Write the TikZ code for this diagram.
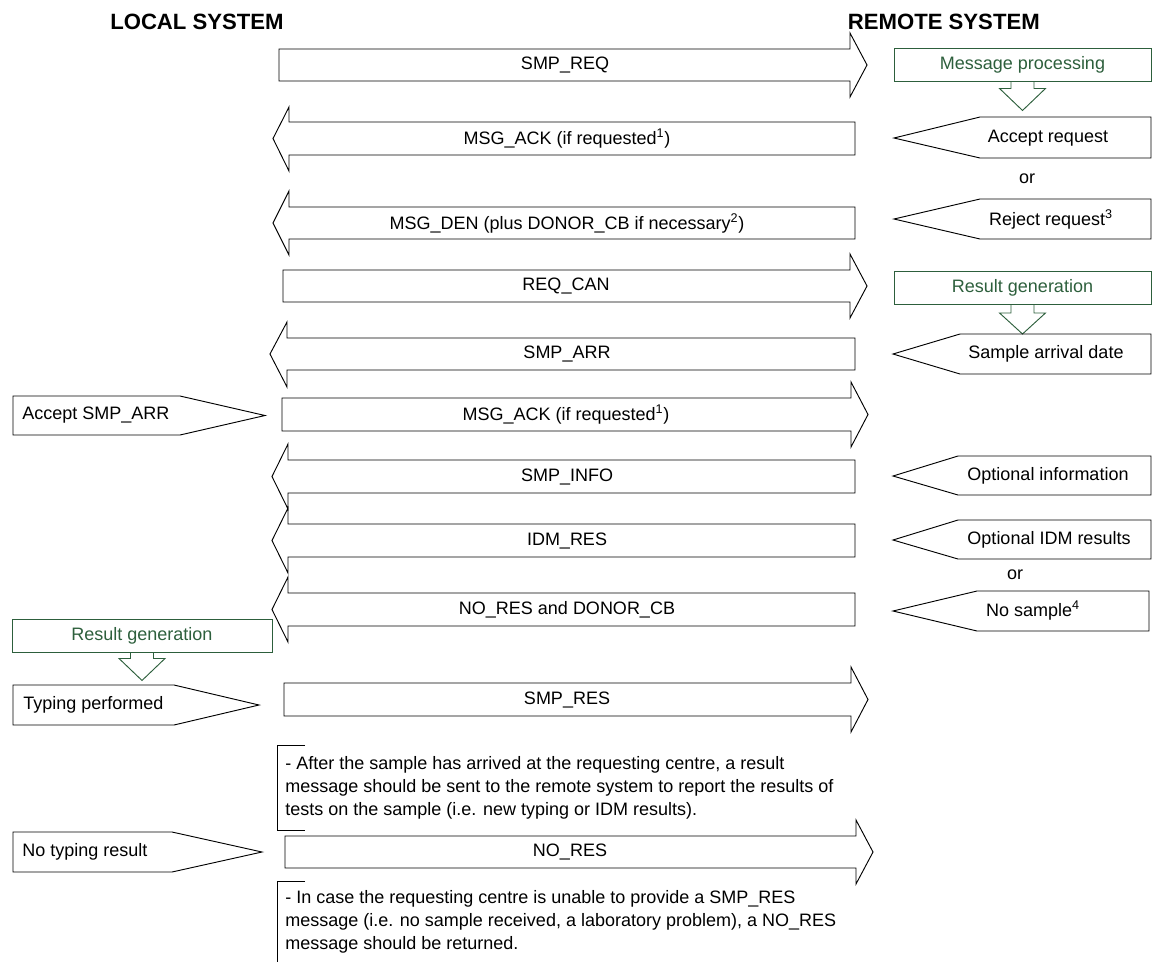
\documentclass[tikz,border=0pt]{standalone}
\usepackage{fontspec}
\setmainfont{Liberation Sans}
\definecolor{vert}{RGB}{45,95,60}

\begin{document}
\begin{tikzpicture}[x=0.75pt,y=-0.75pt]
\tikzset{fleche/.style={draw, line width=0.7pt, line join=miter},
  vfleche/.style={draw=vert, line width=0.7pt},
  lbl/.style={font=\fontsize{13.5}{16}\selectfont, inner sep=0pt},
  titre/.style={font=\fontsize{16.6}{19}\selectfont\bfseries, inner sep=0pt},
  boite/.style={draw=vert, text=vert, line width=0.7pt, minimum height=24.75pt, font=\fontsize{13.5}{16}\selectfont, inner sep=0pt},
  note/.style={font=\fontsize{13.5}{17.2}\selectfont, inner sep=0pt, align=left}}
\useasboundingbox (0,0) rectangle (1152,965);

% titres
\node[titre, anchor=west] (LS) at (110,22) {LOCAL SYSTEM};
\node[titre, anchor=east] (RS) at (1040,22) {REMOTE SYSTEM};

% messages
\draw[fleche] (279,49) -- (850,49) -- (850,33) -- (867,65) -- (850,97) -- (850,81) -- (279,81) -- cycle;
\node[lbl] (M1) at (565,65) {SMP\_REQ};
\draw[fleche] (855,122) -- (289,122) -- (289,107) -- (273,138.5) -- (289,171) -- (289,155) -- (855,155) -- cycle;
\node[lbl] (M2) at (567,138.5) {MSG\_ACK (if requested\textsuperscript{1})};
\draw[fleche] (855,207) -- (289,207) -- (289,191) -- (273,223) -- (289,255) -- (289,239) -- (855,239) -- cycle;
\node[lbl] (M3) at (567,223) {MSG\_DEN (plus DONOR\_CB if necessary\textsuperscript{2})};
\draw[fleche] (283,270) -- (850,270) -- (850,254) -- (867,286) -- (850,318) -- (850,302) -- (283,302) -- cycle;
\node[lbl] (M4) at (566,286) {REQ\_CAN};
\draw[fleche] (855,338) -- (287,338) -- (287,322) -- (270,354) -- (287,387) -- (287,370) -- (855,370) -- cycle;
\node[lbl] (M5) at (567,354) {SMP\_ARR};
\draw[fleche] (282,398) -- (851,398) -- (851,382) -- (868,414.5) -- (851,447) -- (851,431) -- (282,431) -- cycle;
\node[lbl] (M6) at (566,414.5) {MSG\_ACK (if requested\textsuperscript{1})};
\draw[fleche] (855,460) -- (288,460) -- (288,444) -- (272,476.5) -- (288,509) -- (288,493) -- (855,493) -- cycle;
\node[lbl] (M7) at (567,476.5) {SMP\_INFO};
\draw[fleche] (855,524) -- (288,524) -- (288,508) -- (272,540.5) -- (288,573) -- (288,557) -- (855,557) -- cycle;
\node[lbl] (M8) at (567,540.5) {IDM\_RES};
\draw[fleche] (855,593) -- (288,593) -- (288,577) -- (272,609.5) -- (288,642) -- (288,626) -- (855,626) -- cycle;
\node[lbl] (M9) at (567,609.5) {NO\_RES and DONOR\_CB};
\draw[fleche] (284,683) -- (851,683) -- (851,667) -- (868,699.5) -- (851,732) -- (851,716) -- (284,716) -- cycle;
\node[lbl] (M10) at (567,699.5) {SMP\_RES};
\draw[fleche] (285,836) -- (856,836) -- (856,820) -- (873,852) -- (856,884) -- (856,868) -- (285,868) -- cycle;
\node[lbl] (M11) at (570,852) {NO\_RES};

% cote distant
\node[boite, minimum width=192.75pt] (P1) at (1022.5,64.5) {Message processing};
\draw[vfleche, shift={(P1.south)}] (-11.5,0) -- (-11.5,7) -- (-23,7) -- (0,29) -- (23,7) -- (11.5,7) -- (11.5,0);
\draw[fleche] (1151,117) -- (980,117) -- (894,138) -- (980,158) -- (1151,158) -- cycle;
\node[lbl] (R1) at (1048,138) {Accept request};
\node[lbl] (O1) at (1027,179) {or};
\draw[fleche] (1151,199) -- (980,199) -- (894,219) -- (980,239) -- (1151,239) -- cycle;
\node[lbl] (R2) at (1051,219) {Reject request\textsuperscript{3}};
\node[boite, minimum width=192.75pt] (P2) at (1022.5,288) {Result generation};
\draw[vfleche, shift={(P2.south)}] (-11.5,0) -- (-11.5,8) -- (-23,8) -- (0,29) -- (23,8) -- (11.5,8) -- (11.5,0);
\draw[fleche] (1151,334) -- (960,334) -- (893,354) -- (960,374) -- (1151,374) -- cycle;
\node[lbl] (R3) at (1046,354) {Sample arrival date};
\draw[fleche] (1151,456) -- (958,456) -- (893,476) -- (958,495) -- (1151,495) -- cycle;
\node[lbl] (R4) at (1048,476) {Optional information};
\draw[fleche] (1151,520) -- (958,520) -- (893,540) -- (958,559) -- (1151,559) -- cycle;
\node[lbl] (R5) at (1049,540) {Optional IDM results};
\node[lbl] (O2) at (1015,575) {or};
\draw[fleche] (1149,591) -- (977,591) -- (893,611) -- (977,631) -- (1149,631) -- cycle;
\node[lbl] (R6) at (1033,611) {No sample\textsuperscript{4}};

% cote local
\draw[fleche] (13,396) -- (180,396) -- (265,415.5) -- (180,435) -- (13,435) -- cycle;
\node[lbl, anchor=west] (L1) at (22,415.5) {Accept SMP\_ARR};
\node[boite, minimum width=195pt] (P3) at (142,635.5) {Result generation};
\draw[vfleche, shift={(P3.south)}] (-11.5,0) -- (-11.5,6) -- (-23,6) -- (0,28) -- (23,6) -- (11.5,6) -- (11.5,0);
\draw[fleche] (13,685) -- (174,685) -- (259,705) -- (174,725) -- (13,725) -- cycle;
\node[lbl, anchor=west] (L2) at (23,705) {Typing performed};
\draw[fleche] (13,832) -- (172,832) -- (262,852) -- (172,872) -- (13,872) -- cycle;
\node[lbl, anchor=west] (L3) at (22,852) {No typing result};

% notes
\draw[fleche] (305,745) -- (277,745) -- (277,830) -- (305,830);
\node[note, anchor=north west] (N1) at (285,756) {- After the sample has arrived at the requesting centre, a result\\message should be sent to the remote system to report the results of\\tests on the sample (i.e. new typing or IDM results).};
\draw[fleche] (305,881) -- (277,881) -- (277,962);
\node[note, anchor=north west] (N2) at (285,890) {- In case the requesting centre is unable to provide a SMP\_RES\\message (i.e. no sample received, a laboratory problem), a NO\_RES\\message should be returned.};
\end{tikzpicture}
\end{document}
